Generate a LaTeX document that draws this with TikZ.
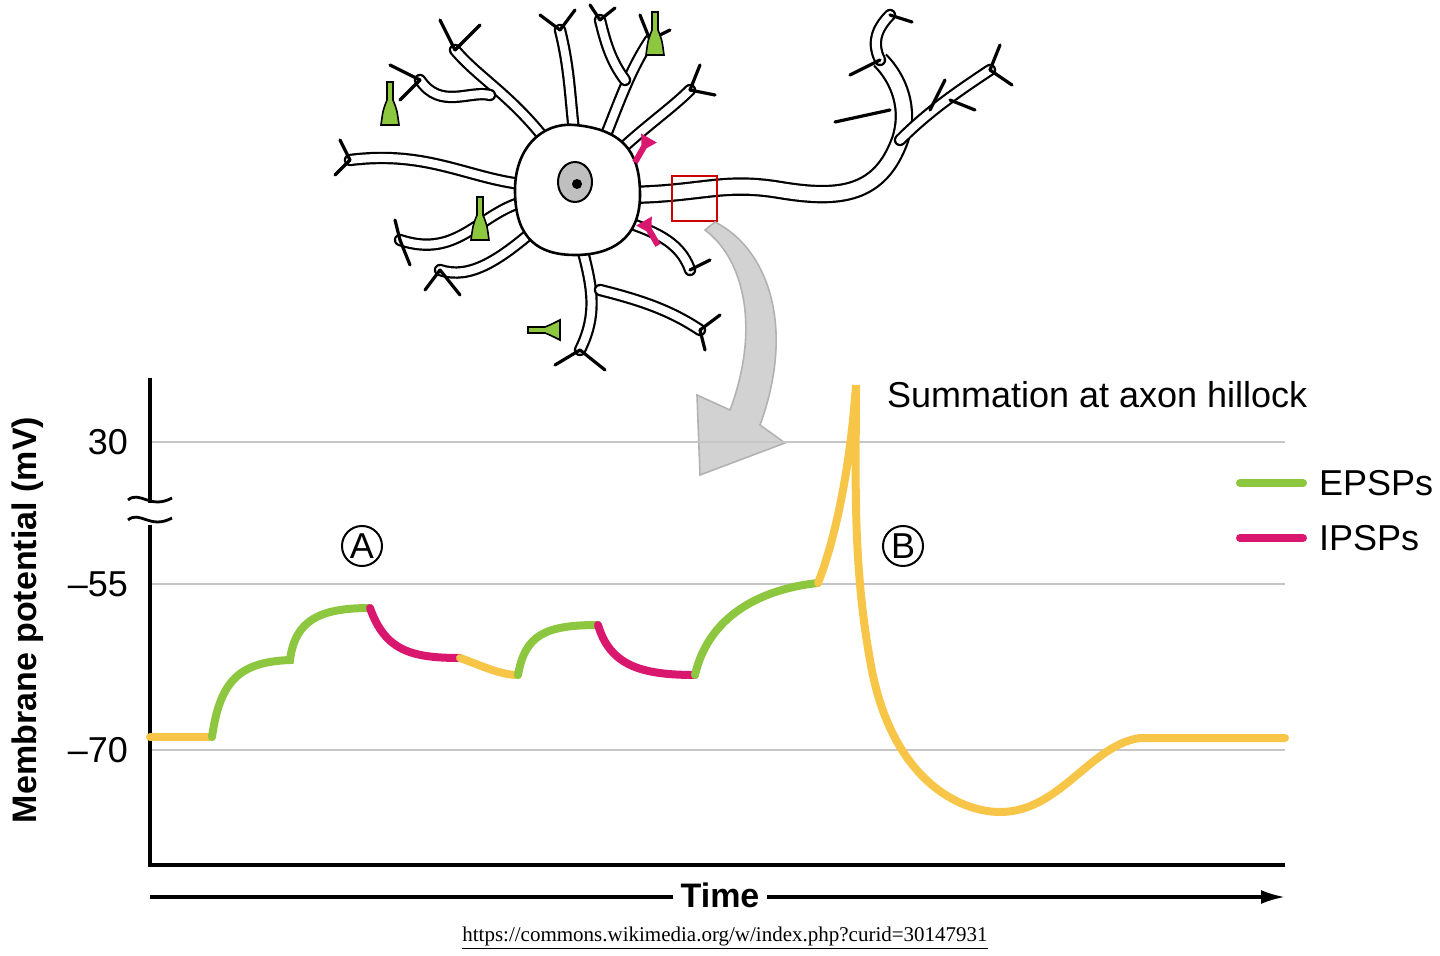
\documentclass[tikz,border=0pt]{standalone}
\usepackage{fontspec}
\usetikzlibrary{arrows.meta}
\setmainfont{Liberation Sans}
\newfontfamily\urlfont{Liberation Serif}
\definecolor{epc}{HTML}{8DC63F}
\definecolor{ipc}{HTML}{D9176F}
\definecolor{rsc}{HTML}{F7C548}
\begin{document}
\begin{tikzpicture}[x=0.5pt,y=-0.5pt,
  grid/.style={gray!45,line width=0.8pt},
  ax/.style={line width=1.6pt,black},
  ep/.style={line width=4pt,epc,line cap=round},
  ip/.style={line width=4pt,ipc,line cap=round},
  rs/.style={line width=4pt,rsc,line cap=round},
  lab/.style={font=\fontsize{18}{21}\selectfont},
  den/.style={double=white,double distance=4pt,line width=1.1pt,line cap=round},
  tw/.style={line width=1.6pt,line cap=round}]
\useasboundingbox (0,0) rectangle (1440,956);
% neuron dendrites
\foreach \p in {
 {(560,160) .. controls (520,100) and (480,80) .. (455,50)},
 {(490,95) .. controls (470,90) and (440,110) .. (420,80)},
 {(575,140) .. controls (570,100) and (570,70) .. (560,30)},
 {(600,150) .. controls (620,100) and (630,70) .. (650,40)},
 {(625,80) .. controls (610,60) and (605,40) .. (600,20)},
 {(530,185) .. controls (470,180) and (430,150) .. (350,160)},
 {(530,200) .. controls (480,210) and (460,260) .. (400,240)},
 {(540,225) .. controls (500,260) and (470,280) .. (440,270)},
 {(580,240) .. controls (590,280) and (600,310) .. (580,350)},
 {(600,290) .. controls (640,300) and (670,310) .. (700,330)},
 {(620,220) .. controls (650,230) and (680,240) .. (690,270)},
 {(610,160) .. controls (640,130) and (670,110) .. (690,90)}}
 \draw[den] \p;
\foreach \a/\b/\c/\d in {455/50/440/20,455/50/480/25,420/80/390/65,420/80/400/100,350/160/340/140,350/160/335/175,
 400/240/395/220,400/240/410/265,440/270/425/290,440/270/460/295,580/350/555/365,580/350/605/370,700/330/720/315,
 700/330/705/350,690/270/710/260,690/90/700/65,690/90/715/95,560/30/540/15,560/30/575/10,650/40/640/15,650/40/670/30,600/20/590/5,600/20/615/8}
 \draw[tw] (\a,\b) -- (\c,\d);
% axon
\draw[double=white,double distance=7pt,line width=1.1pt] (620,195) .. controls (700,195) and (720,180) .. (780,190) .. controls (840,200) and (880,195) .. (900,140) .. controls (910,110) and (900,80) .. (880,60);
\draw[den] (900,140) .. controls (930,110) and (960,90) .. (990,70);
\draw[den] (880,60) .. controls (870,40) and (880,25) .. (890,15);
\draw[tw] (880,60) -- (850,75); \draw[tw] (890,110) -- (835,122); \draw[tw] (990,70) -- (1012,85);
\draw[tw] (990,70) -- (1000,45); \draw[tw] (890,15) -- (912,22); \draw[tw] (930,110) -- (945,80); \draw[tw] (950,100)--(975,110);
% soma
\draw[line width=1.3pt,fill=white] (575,125) .. controls (630,130) and (640,160) .. (640,195) .. controls (640,240) and (610,255) .. (575,255) .. controls (530,255) and (515,230) .. (515,190) .. controls (515,150) and (540,122) .. (575,125);
\draw[line width=1pt,fill=gray!50] (575,182) ellipse (17 and 20);
\fill (577,184) circle (5);
% synapses
\foreach \x/\y in {390/100,655/30,480/215}
 \draw[fill=epc,line width=0.8pt] (\x-9,\y+25) -- (\x+9,\y+25) .. controls (\x+7,\y+10) .. (\x+3,\y) -- (\x+3,\y-18) -- (\x-3,\y-18) -- (\x-3,\y) .. controls (\x-7,\y+10) .. cycle;
\draw[fill=epc,line width=0.8pt] (560,320) -- (560,340) .. controls (550,335) .. (545,333) -- (528,333) -- (528,327) -- (545,327) .. controls (550,325) .. cycle;
\foreach \x/\y/\r in {645/145/-30,648/228/30}
 \fill[ipc,rotate around={\r:(\x,\y)}] (\x-9,\y-8) -- (\x+9,\y-8) -- (\x+3,\y+2) -- (\x+3,\y+20) -- (\x-3,\y+20) -- (\x-3,\y+2) -- cycle;
\draw[red!80!black,line width=1pt] (672,176) rectangle (717,221);
% big arrow
\draw[fill=gray!35,draw=gray!60,line width=0.8pt] (715,222) .. controls (770,250) and (795,330) .. (760,425) -- (785,443) -- (700,475) -- (697,395) -- (730,410) .. controls (760,330) and (745,260) .. (705,230) -- cycle;
% grid
\foreach \y in {442,584,750} \draw[grid] (150,\y) -- (1285,\y);
\draw[ax] (150,378) -- (150,865) -- (1285,865);
\fill[white] (135,503) rectangle (175,525);
\draw[line width=1.4pt] (128,500) .. controls (140,490) and (150,510) .. (172,498);
\draw[line width=1.4pt] (128,520) .. controls (140,510) and (150,530) .. (172,518);
% labels
\node[lab,anchor=east] (t30) at (135,442) {30};
\node[lab,anchor=east] (t55) at (135,584) {\textendash55};
\node[lab,anchor=east] (t70) at (135,750) {\textendash70};
\node[lab,font=\fontsize{17}{20}\selectfont\bfseries,rotate=90] (yl) at (28,620) {Membrane potential (mV)};
\node[lab,anchor=west] (sum) at (880,395) {Summation at axon hillock};
\node[draw,circle,inner sep=1pt,line width=1pt,lab] (A) at (362,546) {A};
\node[draw,circle,inner sep=1pt,line width=1pt,lab] (B) at (903,546) {B};
\draw[ep] (1240,483) -- (1303,483); \node[lab,anchor=west] (e) at (1312,483) {EPSPs};
\draw[ip] (1240,538) -- (1303,538); \node[lab,anchor=west] (i) at (1312,538) {IPSPs};
% trace
\draw[rs] (150,737) -- (212,737);
\draw[ep] (212,737) .. controls (220,680) and (240,662) .. (290,660) .. controls (295,620) and (320,608) .. (370,608);
\draw[ip] (370,608) .. controls (385,650) and (410,658) .. (460,658);
\draw[rs] (460,658) .. controls (480,665) and (500,675) .. (518,675);
\draw[ep] (518,675) .. controls (525,635) and (545,625) .. (598,625);
\draw[ip] (598,625) .. controls (610,665) and (640,675) .. (695,675);
\draw[ep] (695,675) .. controls (710,610) and (770,588) .. (818,583);
\draw[rs] (818,583) .. controls (835,540) and (850,470) .. (856,385) .. controls (856,470) and (852,560) .. (870,660) .. controls (890,780) and (960,812) .. (1000,812) .. controls (1060,812) and (1090,745) .. (1140,738) -- (1285,738);
% time axis
\draw[line width=1.6pt,-{Latex[length=12pt,width=7pt]}] (150,897) -- (1285,897);
\node[fill=white,font=\fontsize{17}{20}\selectfont\bfseries,inner xsep=4pt] (time) at (720,895) {Time};
\node[font=\urlfont\fontsize{10.5}{12}\selectfont] (url) at (725,938) {\underline{https://commons.wikimedia.org/w/index.php?curid=30147931}};
\end{tikzpicture}
\end{document}
